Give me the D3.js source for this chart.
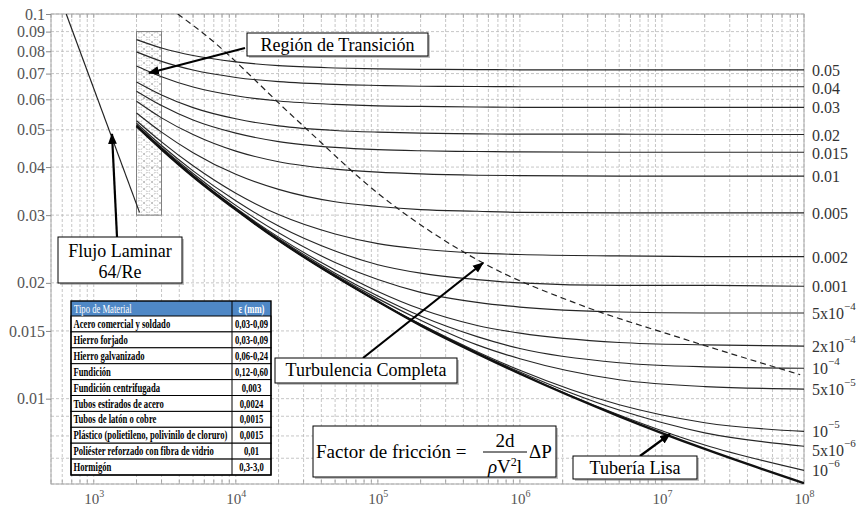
<!DOCTYPE html>
<html>
<head>
<meta charset="utf-8">
<script src="https://cdn.jsdelivr.net/npm/d3@7"></script>
<style>
  body { margin: 0; background: #fff; }
  svg { display: block; font-family: "Liberation Serif", "Times New Roman", serif; }
</style>
</head>
<body>
<div id="chart"></div>
<script>
const reynolds = [2000, 3000, 5000, 1e4, 2e4, 5e4, 1e5, 2e5, 5e5, 1e6, 5e6, 2e7, 1e8];

// relative roughness labels on the right, top to bottom
const roughnessLabels = ["0.05", "0.04", "0.03", "0.02", "0.015", "0.01", "0.005", "0.002", "0.001",
  "5x10^-4", "2x10^-4", "10^-4", "5x10^-5", "10^-5", "5x10^-6", "10^-6"];

// friction factor of each roughness curve (same order as the labels)
const frictionByRoughness = [
  [0.0858, 0.0816, 0.0780, 0.0751, 0.0734, 0.0724, 0.0720, 0.0718, 0.0717, 0.0716, 0.0716, 0.0716, 0.0716],
  [0.0797, 0.0753, 0.0715, 0.0684, 0.0667, 0.0656, 0.0652, 0.0649, 0.0648, 0.0647, 0.0647, 0.0647, 0.0647],
  [0.0733, 0.0687, 0.0646, 0.0613, 0.0594, 0.0582, 0.0577, 0.0575, 0.0573, 0.0572, 0.0572, 0.0572, 0.0572],
  [0.0666, 0.0616, 0.0571, 0.0534, 0.0512, 0.0498, 0.0493, 0.0490, 0.0488, 0.0487, 0.0487, 0.0486, 0.0486],
  [0.0630, 0.0578, 0.0530, 0.0490, 0.0466, 0.0450, 0.0444, 0.0441, 0.0439, 0.0438, 0.0437, 0.0437, 0.0437],
  [0.0593, 0.0537, 0.0486, 0.0440, 0.0413, 0.0395, 0.0388, 0.0384, 0.0381, 0.0380, 0.0379, 0.0379, 0.0379],
  [0.0553, 0.0493, 0.0436, 0.0383, 0.0350, 0.0325, 0.0316, 0.0310, 0.0307, 0.0305, 0.0304, 0.0304, 0.0304],
  [0.0528, 0.0465, 0.0403, 0.0342, 0.0301, 0.0268, 0.0253, 0.0245, 0.0239, 0.0237, 0.0235, 0.0234, 0.0234],
  [0.0520, 0.0455, 0.0391, 0.0327, 0.0281, 0.0242, 0.0223, 0.0212, 0.0204, 0.0200, 0.0197, 0.0197, 0.0196],
  [0.0515, 0.0450, 0.0385, 0.0318, 0.0270, 0.0226, 0.0204, 0.0189, 0.0178, 0.0173, 0.0168, 0.0167, 0.0167],
  [0.0513, 0.0447, 0.0381, 0.0313, 0.0263, 0.0216, 0.0190, 0.0171, 0.0155, 0.0148, 0.0140, 0.0138, 0.0137],
  [0.0512, 0.0446, 0.0380, 0.0312, 0.0261, 0.0212, 0.0185, 0.0164, 0.0145, 0.0135, 0.0124, 0.0121, 0.0120],
  [0.0511, 0.0445, 0.0379, 0.0311, 0.0259, 0.0210, 0.0182, 0.0160, 0.0138, 0.0127, 0.0112, 0.01075, 0.01059],
  [0.0511, 0.0445, 0.0379, 0.0310, 0.0258, 0.0208, 0.0179, 0.0156, 0.01325, 0.01185, 0.00964, 0.00866, 0.00822],
  [0.0511, 0.0445, 0.0379, 0.0310, 0.0258, 0.0208, 0.0179, 0.0156, 0.01317, 0.01173, 0.00934, 0.00815, 0.00752],
  [0.0511, 0.0445, 0.0378, 0.0310, 0.0258, 0.0208, 0.0179, 0.0155, 0.01311, 0.01163, 0.00907, 0.00758, 0.00651]
];

// smooth pipe ("Tubería Lisa")
const frictionSmooth = [0.0511, 0.0445, 0.0378, 0.0310, 0.0258, 0.0208, 0.0179, 0.0155, 0.01309, 0.01161, 0.00900, 0.00740, 0.00603];

// laminar flow 64/Re
const laminarRe = [640, 2100];
const laminarF = [0.1, 0.0305];

// dashed boundary of complete turbulence
const turbulentRe = [3900, 5860, 26900, 103000, 548000, 2650000, 13400000, 94000000];
const turbulentF = [0.1, 0.0893, 0.0530, 0.0339, 0.02255, 0.01754, 0.0144, 0.01154];

// transition region
const transitionRe = [2000, 3000];
const transitionF = [0.03, 0.09];

// axis ticks
const yTickValues = [0.1, 0.09, 0.08, 0.07, 0.06, 0.05, 0.04, 0.03, 0.02, 0.015, 0.01];
const yTickLabels = ["0.1", "0.09", "0.08", "0.07", "0.06", "0.05", "0.04", "0.03", "0.02", "0.015", "0.01"];
const xTickValues = [1e3, 1e4, 1e5, 1e6, 1e7, 1e8];
const xTickExponents = ["3", "4", "5", "6", "7", "8"];

// material table
const materials = ["Acero comercial y soldado", "Hierro forjado", "Hierro galvanizado", "Fundición",
  "Fundición centrifugada", "Tubos estirados de acero", "Tubos de latón o cobre",
  "Plástico (polietileno, polivinilo de cloruro)", "Poliéster reforzado con fibra de vidrio", "Hormigón"];
const materialRoughness = ["0,03-0,09", "0,03-0,09", "0,06-0,24", "0,12-0,60", "0,003", "0,0024",
  "0,0015", "0,0015", "0,01", "0,3-3,0"];

const width = 866, height = 506;
const plotLeft = 51, plotRight = 804, plotTop = 14, plotBottom = 484;

const svg = d3.select("#chart").append("svg")
  .attr("width", width)
  .attr("height", height);

const x = d3.scaleLog().domain([500, 1e8]).range([plotLeft, plotRight]);
const y = d3.scaleLog().domain([0.006, 0.1]).range([plotBottom, plotTop]);

const defs = svg.append("defs");
defs.append("clipPath").attr("id", "plot-clip")
  .append("rect").attr("x", plotLeft).attr("y", plotTop)
  .attr("width", plotRight - plotLeft).attr("height", plotBottom - plotTop);

const hatch = defs.append("pattern").attr("id", "hatch")
  .attr("patternUnits", "userSpaceOnUse").attr("width", 8).attr("height", 7);
hatch.append("path").attr("d", "M0,0 Q4,5 8,0 M0,7 Q4,2 8,7")
  .attr("fill", "none").attr("stroke", "#8a8a8a").attr("stroke-width", 0.6).attr("stroke-dasharray", "1.6,1.2");

defs.append("marker").attr("id", "arrow")
  .attr("viewBox", "0 0 10 10").attr("refX", 9).attr("refY", 5)
  .attr("markerWidth", 5).attr("markerHeight", 5).attr("markerUnits", "strokeWidth")
  .attr("orient", "auto")
  .append("path").attr("d", "M0,1 L10,5 L0,9 Z").attr("fill", "#000");

// grid lines
const xGrid = [];
for (let k = 2; k < 8; k++) {
  for (let m = 1; m < 10; m++) {
    const v = m * Math.pow(10, k);
    if (v >= 500 && v <= 1e8) xGrid.push(v);
  }
}
xGrid.push(1e8);
const yGrid = [0.006, 0.007, 0.008, 0.009, 0.01, 0.015, 0.02, 0.03, 0.04, 0.05, 0.06, 0.07, 0.08, 0.09, 0.1];

const grid = svg.append("g").attr("stroke", "#b8b8b8").attr("stroke-width", 0.8).attr("stroke-dasharray", "3,2");
grid.selectAll(".vg").data(xGrid).join("line")
  .attr("x1", d => x(d)).attr("x2", d => x(d)).attr("y1", plotTop).attr("y2", plotBottom);
grid.selectAll(".hg").data(yGrid).join("line")
  .attr("x1", plotLeft).attr("x2", plotRight).attr("y1", d => y(d)).attr("y2", d => y(d));

// small inner ticks on the frame
const ticks = svg.append("g").attr("stroke", "#999").attr("stroke-width", 0.8);
ticks.selectAll(".tt").data(xGrid).join("line")
  .attr("x1", d => x(d)).attr("x2", d => x(d)).attr("y1", plotTop).attr("y2", plotTop + 4);
ticks.selectAll(".tb").data(xGrid).join("line")
  .attr("x1", d => x(d)).attr("x2", d => x(d)).attr("y1", plotBottom).attr("y2", plotBottom - 4);

// frame
svg.append("rect").attr("x", plotLeft).attr("y", plotTop)
  .attr("width", plotRight - plotLeft).attr("height", plotBottom - plotTop)
  .attr("fill", "none").attr("stroke", "#a8a8a8").attr("stroke-width", 1);

// y axis on the left
const yAxis = svg.append("g").attr("transform", `translate(${plotLeft},0)`)
  .call(d3.axisLeft(y).tickValues(yTickValues).tickSize(5).tickFormat((d, i) => yTickLabels[i]));
yAxis.select(".domain").remove();
yAxis.selectAll("line").attr("stroke", "#888");
yAxis.selectAll("text").attr("fill", "#555").attr("font-size", 16)
  .attr("font-family", "Liberation Serif, serif").attr("x", -6);

// x axis labels, 10 with superscript exponent
const xAxis = svg.append("g").attr("transform", `translate(0,${plotBottom})`)
  .call(d3.axisBottom(x).tickValues(xTickValues).tickSize(0).tickFormat(""));
xAxis.select(".domain").remove();
xAxis.selectAll(".tick").append("text")
  .attr("fill", "#555").attr("font-size", 15).attr("font-family", "Liberation Serif, serif")
  .attr("text-anchor", "middle").attr("y", 20)
  .each(function(d, i) {
    const t = d3.select(this);
    t.append("tspan").text("10");
    t.append("tspan").attr("dy", -7).attr("font-size", 10).text(xTickExponents[i]);
  });

const plot = svg.append("g").attr("clip-path", "url(#plot-clip)");

// transition region box
plot.append("rect")
  .attr("x", x(transitionRe[0])).attr("width", x(transitionRe[1]) - x(transitionRe[0]))
  .attr("y", y(transitionF[1])).attr("height", y(transitionF[0]) - y(transitionF[1]))
  .attr("fill", "url(#hatch)").attr("stroke", "#777").attr("stroke-width", 0.9);

const line = d3.line()
  .x(d => x(d[0]))
  .y(d => y(d[1]))
  .curve(d3.curveMonotoneX);

// roughness curves
plot.selectAll(".rough").data(frictionByRoughness).join("path")
  .attr("class", "rough")
  .attr("d", f => line(reynolds.map((r, i) => [r, f[i]])))
  .attr("fill", "none").attr("stroke", "#262626").attr("stroke-width", 1.15);

// smooth pipe
plot.append("path")
  .attr("d", line(reynolds.map((r, i) => [r, frictionSmooth[i]])))
  .attr("fill", "none").attr("stroke", "#111").attr("stroke-width", 2.4);

// laminar line
plot.append("path")
  .attr("d", d3.line().x(d => x(d[0])).y(d => y(d[1]))(laminarRe.map((r, i) => [r, laminarF[i]])))
  .attr("fill", "none").attr("stroke", "#222").attr("stroke-width", 1.2);

// complete turbulence boundary
plot.append("path")
  .attr("d", line(turbulentRe.map((r, i) => [r, turbulentF[i]])))
  .attr("fill", "none").attr("stroke", "#222").attr("stroke-width", 1.2).attr("stroke-dasharray", "6,4");

// right-hand roughness labels, centred on each curve end and pushed apart when too close
const labelY = [];
frictionByRoughness.forEach((f, i) => {
  let ly = y(f[reynolds.length - 1]);
  if (i > 0 && ly - labelY[i - 1] < 18.5) ly = labelY[i - 1] + 18.5;
  labelY.push(ly);
});
svg.append("g").selectAll("text").data(roughnessLabels).join("text")
  .attr("x", plotRight + 8)
  .attr("y", (d, i) => labelY[i])
  .attr("dominant-baseline", "central")
  .attr("font-size", 16).attr("fill", "#333")
  .each(function(d) {
    const t = d3.select(this);
    const parts = d.split("^");
    t.append("tspan").text(parts[0]);
    if (parts[1]) t.append("tspan").attr("dy", -7).attr("font-size", 11).text(parts[1].replace("-", "\u2212"));
  });

// annotation boxes with a light shadow
function labelBox(bx, by, bw, bh) {
  svg.append("rect").attr("x", bx + 2).attr("y", by + 2).attr("width", bw).attr("height", bh)
    .attr("fill", "#9a9a9a").attr("opacity", 0.6);
  svg.append("rect").attr("x", bx).attr("y", by).attr("width", bw).attr("height", bh)
    .attr("fill", "#fff").attr("stroke", "#000").attr("stroke-width", 1);
}

function arrow(x1, y1, x2, y2) {
  svg.append("line").attr("x1", x1).attr("y1", y1).attr("x2", x2).attr("y2", y2)
    .attr("stroke", "#000").attr("stroke-width", 2.2).attr("marker-end", "url(#arrow)");
}

// Región de Transición
arrow(245, 48, 149, 73);
labelBox(247, 33, 181, 23);
svg.append("text").attr("x", 337.5).attr("y", 51).attr("text-anchor", "middle")
  .attr("font-size", 18).text("Región de Transición");

// Flujo Laminar
arrow(117, 237, 112, 134);
labelBox(58, 237, 124, 46);
svg.append("text").attr("x", 120).attr("y", 257).attr("text-anchor", "middle")
  .attr("font-size", 18).text("Flujo Laminar");
svg.append("text").attr("x", 120).attr("y", 278).attr("text-anchor", "middle")
  .attr("font-size", 18).text("64/Re");

// Turbulencia Completa
arrow(363, 358, 483, 263);
labelBox(275, 358, 182, 25);
svg.append("text").attr("x", 366).attr("y", 376).attr("text-anchor", "middle")
  .attr("font-size", 18).text("Turbulencia Completa");

// Tubería Lisa
arrow(640, 456, 670, 434);
labelBox(573, 456, 124, 23);
svg.append("text").attr("x", 635).attr("y", 474).attr("text-anchor", "middle")
  .attr("font-size", 18).text("Tubería Lisa");

// friction factor formula
labelBox(313, 426, 243, 51);
svg.append("text").attr("x", 316).attr("y", 458).attr("font-size", 19).text("Factor de fricción =");
svg.append("text").attr("x", 505).attr("y", 447).attr("text-anchor", "middle").attr("font-size", 19).text("2d");
svg.append("line").attr("x1", 483).attr("x2", 527).attr("y1", 452).attr("y2", 452)
  .attr("stroke", "#000").attr("stroke-width", 1);
const denom = svg.append("text").attr("x", 505).attr("y", 473).attr("text-anchor", "middle").attr("font-size", 19);
denom.append("tspan").attr("font-style", "italic").text("ρ");
denom.append("tspan").text("V");
denom.append("tspan").attr("dy", -7).attr("font-size", 12).text("2");
denom.append("tspan").attr("dy", 7).text("l");
svg.append("text").attr("x", 529).attr("y", 458).attr("font-size", 19).text("ΔP");

// material table
const tableX = 71, col1 = 161, col2 = 39, headerY = 301, headerH = 15, rowH = 15.9;
const table = svg.append("g").attr("font-weight", "bold");
table.append("rect").attr("x", tableX).attr("y", headerY).attr("width", col1 + col2).attr("height", headerH)
  .attr("fill", "#4f88c6");
table.selectAll(".row").data(materials).join("rect")
  .attr("x", tableX).attr("y", (d, i) => headerY + headerH + i * rowH)
  .attr("width", col1 + col2).attr("height", rowH)
  .attr("fill", "#fff").attr("stroke", "#000").attr("stroke-width", 1);
table.append("line").attr("x1", tableX + col1).attr("x2", tableX + col1)
  .attr("y1", headerY).attr("y2", headerY + headerH + materials.length * rowH)
  .attr("stroke", "#000").attr("stroke-width", 1);
table.append("rect").attr("x", tableX).attr("y", headerY).attr("width", col1 + col2)
  .attr("height", headerH + materials.length * rowH)
  .attr("fill", "none").attr("stroke", "#000").attr("stroke-width", 1.4);

// condensed text that is squeezed further when it would overflow its cell
function cellText(sel, tx, ty, maxW, anchor) {
  sel.attr("text-anchor", anchor).attr("font-size", 12)
    .each(function(d, i) {
      const len = this.getComputedTextLength();
      const s = Math.min(0.72, maxW / len);
      d3.select(this).attr("transform", `translate(${tx(d, i)},${ty(d, i)}) scale(${s},1)`);
    });
}

cellText(table.append("text").attr("fill", "#fff").attr("font-weight", "normal").text("Tipo de Material"),
  () => tableX + 3, () => headerY + 11.5, 150, "start");
cellText(table.append("text").attr("fill", "#fff").text("ε (mm)"),
  () => tableX + col1 + col2 / 2, () => headerY + 11.5, 35, "middle");
cellText(table.selectAll(".mat").data(materials).join("text").attr("fill", "#000").text(d => d),
  () => tableX + 2.5, (d, i) => headerY + headerH + i * rowH + 12, 157, "start");
cellText(table.selectAll(".eps").data(materialRoughness).join("text").attr("fill", "#000").text(d => d),
  () => tableX + col1 + col2 / 2, (d, i) => headerY + headerH + i * rowH + 12, 36, "middle");
</script>
</body>
</html>
